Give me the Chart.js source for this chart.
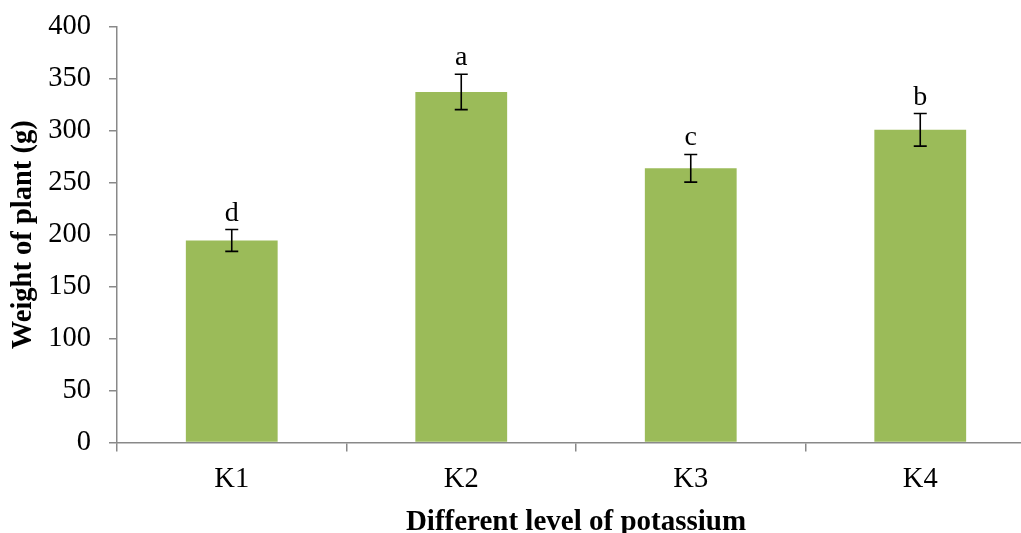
<!DOCTYPE html>
<html>
<head>
<meta charset="utf-8">
<script src="https://cdn.jsdelivr.net/npm/chart.js@4"></script>
<style>
  html, body { margin: 0; padding: 0; overflow: hidden; background: #fff; }
  #wrap { width: 1040px; height: 533px; }
</style>
</head>
<body>
<div id="wrap"><canvas id="c" width="1040" height="533"></canvas></div>
<script>
const categories = ["K1", "K2", "K3", "K4"];
const weights = [194.5, 337.5, 264, 301];
const errors = [10.5, 17, 13.3, 15.7];
const letters = ["d", "a", "c", "b"];
const yTicks = [0, 50, 100, 150, 200, 250, 300, 350, 400];

const FONT = "'Liberation Serif', 'Times New Roman', serif";
const AXIS_COLOR = "#898989";

const errorBarPlugin = {
  id: "errorBars",
  afterDatasetsDraw(chart) {
    const ctx = chart.ctx;
    const meta = chart.getDatasetMeta(0);
    const y = chart.scales.y;
    ctx.save();
    ctx.strokeStyle = "#000";
    ctx.lineWidth = 1.6;
    ctx.fillStyle = "#000";
    ctx.font = "28px " + FONT;
    ctx.textAlign = "center";
    ctx.textBaseline = "alphabetic";
    meta.data.forEach((bar, i) => {
      const x = bar.x;
      const top = y.getPixelForValue(weights[i] + errors[i]);
      const bot = y.getPixelForValue(weights[i] - errors[i]);
      const cap = 6.5;
      ctx.beginPath();
      ctx.moveTo(x, top); ctx.lineTo(x, bot);
      ctx.moveTo(x - cap, top); ctx.lineTo(x + cap, top);
      ctx.moveTo(x - cap, bot); ctx.lineTo(x + cap, bot);
      ctx.stroke();
      ctx.fillText(letters[i], x, top - 9);
    });
    ctx.restore();
  }
};

new Chart(document.getElementById("c"), {
  type: "bar",
  data: {
    labels: categories,
    datasets: [{
      data: weights,
      backgroundColor: "#9BBB59",
      borderWidth: 0,
      barPercentage: 0.4,
      categoryPercentage: 1.0
    }]
  },
  options: {
    responsive: false,
    animation: false,
    devicePixelRatio: 1,
    layout: { padding: { top: 27, right: 5, left: 0, bottom: 0 } },
    plugins: { legend: { display: false }, tooltip: { enabled: false } },
    scales: {
      x: {
        grid: { drawOnChartArea: false, offset: true, tickLength: 9, color: AXIS_COLOR, lineWidth: 1.5 },
        border: { color: AXIS_COLOR, width: 1.5 },
        ticks: { color: "#000", font: { family: FONT, size: 28.5 }, padding: 11 },
        title: { display: true, text: "Different level of potassium", color: "#000",
                 font: { family: FONT, size: 29, weight: "bold" }, padding: { top: 0, bottom: -7 } },
        afterFit(scale) { scale.height = 90.5; scale.paddingLeft = 0; scale.paddingRight = 0; }
      },
      y: {
        min: 0, max: 400,
        afterBuildTicks(scale) { scale.ticks = yTicks.map(v => ({ value: v })); },
        grid: { drawOnChartArea: false, tickLength: 8, color: AXIS_COLOR, lineWidth: 1.5 },
        border: { color: AXIS_COLOR, width: 1.5 },
        ticks: { color: "#000", font: { family: FONT, size: 28.5 }, padding: 18 },
        title: { display: true, text: "Weight of plant (g)", color: "#000",
                 font: { family: FONT, size: 28.5, weight: "bold" }, padding: { top: 7, bottom: 0 } },
        afterFit(scale) { scale.width = 117; scale.paddingTop = 0; scale.paddingBottom = 0; }
      }
    }
  },
  plugins: [errorBarPlugin]
});
</script>
</body>
</html>
